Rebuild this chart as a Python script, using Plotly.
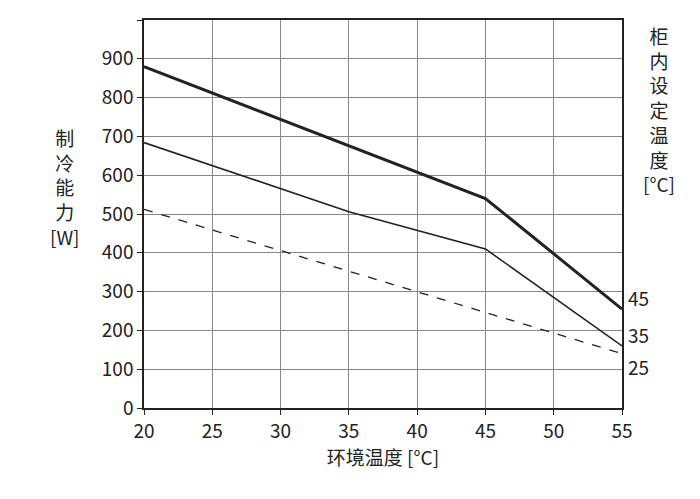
import plotly.graph_objects as go

x_45 = [20, 45, 55]
y_45 = [880, 540, 255]
x_35 = [20, 35, 45, 55]
y_35 = [684, 506, 410, 160]
x_25 = [20, 55]
y_25 = [512, 140]
labels = ["45", "35", "25"]
label_y = [285, 190, 108]

fnt = dict(family="Noto Sans CJK SC", size=19, color="#222")

fig = go.Figure()
fig.add_trace(go.Scatter(x=x_45, y=y_45, mode="lines", line=dict(color="#222", width=3)))
fig.add_trace(go.Scatter(x=x_35, y=y_35, mode="lines", line=dict(color="#222", width=1.6)))
fig.add_trace(go.Scatter(x=x_25, y=y_25, mode="lines", line=dict(color="#222", width=1.3, dash="dash")))

for t, yy in zip(labels, label_y):
    fig.add_annotation(x=55, y=yy, text=t, showarrow=False, xanchor="left",
                       xshift=4, font=fnt)

fig.add_annotation(xref="paper", yref="paper", x=-0.2, y=0.57, text="制<br>冷<br>能<br>力<br>[W]",
                   showarrow=False, font=fnt, align="center")
fig.add_annotation(xref="paper", yref="paper", x=1.04, y=1.0, yanchor="top", xanchor="left",
                   text="柜<br>内<br>设<br>定<br>温<br>度<br>[°C]", showarrow=False, font=fnt,
                   align="center")

axis = dict(showgrid=True, gridcolor="#888", gridwidth=1, showline=True, linecolor="#222",
            linewidth=1.5, mirror=True, ticks="outside", tickcolor="#222", ticklen=5,
            tickfont=fnt, zeroline=False)
fig.update_xaxes(range=[20, 55], dtick=5, title=dict(text="环境温度 [°C]", font=fnt, standoff=6), **axis)
fig.update_yaxes(range=[0, 1000], dtick=100, **axis)
fig.update_layout(width=700, height=499, margin=dict(l=136, r=86, t=10, b=99),
                  plot_bgcolor="white", paper_bgcolor="white", showlegend=False, font=fnt)
fig.write_html("out.html")
